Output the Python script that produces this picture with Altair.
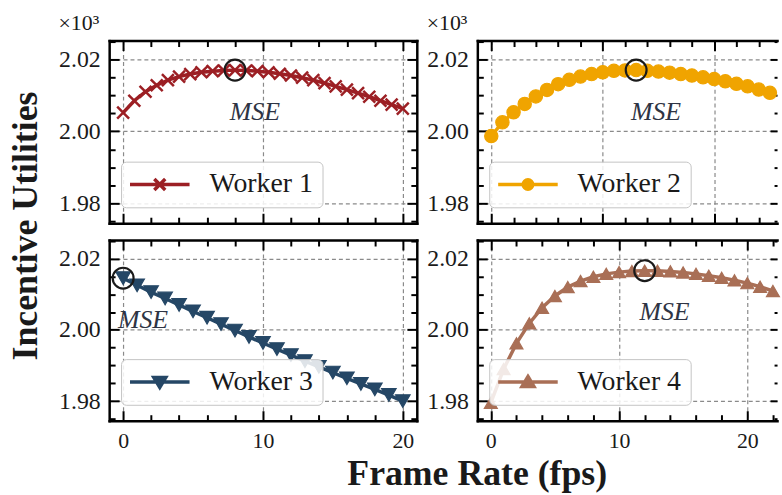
import altair as alt
import pandas as pd

FONT = "Liberation Serif"
TXT = "#1a1a1a"

# ---------------- data ----------------
workers = ["Worker 1", "Worker 2", "Worker 3", "Worker 4"]
colors = ["#9c1f24", "#f0a400", "#254766", "#a96f56"]

w1_x = [0.0, 0.8, 1.6, 2.4, 3.2, 4.0, 4.8, 5.6, 6.4, 7.2, 8.0, 8.8, 9.6,
        10.4, 11.2, 12.0, 12.8, 13.6, 14.4, 15.2, 16.0, 16.8, 17.6, 18.4, 19.2, 20.0]
w1_y = [2.0052, 2.0085, 2.0110, 2.0128, 2.0142, 2.0152, 2.0159, 2.0164, 2.0167,
        2.0169, 2.0170, 2.0169, 2.0167, 2.0164, 2.0160, 2.0155, 2.0149, 2.0142,
        2.0134, 2.0125, 2.0116, 2.0106, 2.0096, 2.0085, 2.0074, 2.0063]

w2_x = [0, 1, 2, 3, 4, 5, 6, 7, 8, 9, 10, 11, 12, 13, 14, 15, 16, 17, 18, 19,
        20, 21, 22, 23, 24, 25]
w2_y = [1.9987, 2.0025, 2.0053, 2.0076, 2.0097, 2.0115, 2.0131, 2.0143, 2.0152,
        2.0159, 2.0164, 2.0168, 2.0169, 2.0170, 2.0168, 2.0166, 2.0163, 2.0159,
        2.0155, 2.0150, 2.0145, 2.0139, 2.0132, 2.0125, 2.0116, 2.0107]

w3_x = [0, 1, 2, 3, 4, 5, 6, 7, 8, 9, 10, 11, 12, 13, 14, 15, 16, 17, 18, 19, 20]
w3_y = [2.0145, 2.0125, 2.0106, 2.0088, 2.0070, 2.0052, 2.0034, 2.0016, 1.9998,
        1.9980, 1.9963, 1.9946, 1.9929, 1.9912, 1.9896, 1.9880, 1.9864, 1.9848,
        1.9833, 1.9817, 1.9800]

w4_x = [0, 1, 2, 3, 4, 5, 6, 7, 8, 9, 10, 11, 12, 13, 14, 15, 16, 17, 18, 19,
        20, 21, 22]
w4_y = [1.9795, 1.9890, 1.9962, 2.0018, 2.0062, 2.0095, 2.0120, 2.0137, 2.0149,
        2.0157, 2.0162, 2.0165, 2.0166, 2.0166, 2.0164, 2.0161, 2.0157, 2.0152,
        2.0146, 2.0139, 2.0131, 2.0121, 2.0109]

mse_x = [8.0, 13, 0, 12]
mse_y = [2.0170, 2.0170, 2.0145, 2.0166]
mse_label = "MSE"

y_major = [1.98, 2.0, 2.02]
y_ticks = [1.975, 1.98, 1.985, 1.99, 1.995, 2.0, 2.005, 2.01, 2.015, 2.02, 2.025]
y_domain = [1.9745, 2.0252]

x_major = [0, 10, 20]
x_ticks_a = [0, 2, 4, 6, 8, 10, 12, 14, 16, 18, 20]
x_ticks_b = [0, 2, 4, 6, 8, 10, 12, 14, 16, 18, 20, 22, 24]
x_ticks_c = [0, 2, 4, 6, 8, 10, 12, 14, 16, 18, 20, 22]

x_domains = [[-1, 21], [-1.25, 25.64], [-1, 21], [-1.05, 22.32]]

# ---------------- helpers ----------------
def is_major(major):
    arr = ",".join(str(v) for v in major)
    return f"indexof([{arr}], datum.value) >= 0"


def cond(major, big, small):
    return {"condition": {"test": is_major(major), "value": big}, "value": small}


def make_axis(orient, values, major, labels, grid, domain, big=-10, small=-6,
              fmt="d", pad=18, lsize=22):
    kw = dict(orient=orient, values=values, title=None, domain=domain,
              domainColor="black", domainWidth=2.5, domainCap="square",
              ticks=True, tickColor="black", tickWidth=2,
              tickSize=cond(major, big, small), labels=labels, grid=grid,
              minExtent=0)
    if labels:
        kw.update(labelExpr=f"{is_major(major)} ? format(datum.value, '{fmt}') : ''",
                  labelFont=FONT, labelFontSize=lsize, labelColor=TXT,
                  labelPadding=pad, labelOverlap=False, labelFlush=False)
    if grid:
        kw.update(gridColor="#8a8a8a", gridDash=[4, 3], gridWidth=1.2,
                  gridOpacity=cond(major, 1, 0))
    return alt.Axis(**kw)


LINE = "M-1.4,0L4.6,0"
legend_paths = [
    LINE + "M1.05,-0.55L2.15,0.55M1.05,0.55L2.15,-0.55",
    LINE + "M2.08,0A0.48,0.48 0 1,1 1.12,0A0.48,0.48 0 1,1 2.08,0Z",
    LINE + "M1.0,-0.45L2.2,-0.45L1.6,0.55Z",
    LINE + "M1.6,-0.55L2.2,0.45L1.0,0.45Z",
]
shapes = ["M-1,-1L1,1M-1,1L1,-1", "circle", "triangle-down", "triangle-up"]
sizes = [144, 180, 215, 170]
filled = [False, True, True, True]


def panel(i, xs, ys, xvals, width, height, top_row, right_cut, legend_y):
    name, col = workers[i], colors[i]
    df = pd.DataFrame({"x": xs, "y": ys, "w": [name] * len(xs)})
    mdf = pd.DataFrame({"x": [mse_x[i]], "y": [mse_y[i]], "t": [mse_label]})
    sx = alt.Scale(domain=x_domains[i], nice=False, zero=False)
    sy = alt.Scale(domain=y_domain, nice=False, zero=False)

    ax_bottom = make_axis("bottom", xvals, x_major, labels=not top_row, grid=True,
                          domain=True, fmt="d", pad=20, lsize=22)
    ax_left = make_axis("left", y_ticks, y_major, labels=True, grid=True,
                        domain=True, fmt=".2f", pad=19, lsize=24)
    ax_top = make_axis("top", xvals, x_major, labels=False, grid=False, domain=True)
    if right_cut:
        ax_right = make_axis("right", y_ticks, y_major, labels=False, grid=False,
                             domain=False, big=-7, small=-3)
    else:
        ax_right = make_axis("right", y_ticks, y_major, labels=False, grid=False,
                             domain=True)

    line = alt.Chart(df).mark_line(color=col, strokeWidth=3.5).encode(
        x=alt.X("x:Q", scale=sx, axis=ax_bottom),
        y=alt.Y("y:Q", scale=sy, axis=ax_left),
    )

    leg_kw = dict(title=None, orient="none", legendX=12, legendY=legend_y,
                  symbolType=legend_paths[i], symbolSize=400, symbolStrokeWidth=3.5,
                  symbolOpacity=1, labelFont=FONT, labelFontSize=28, labelColor=TXT,
                  labelOffset=52, padding=9, cornerRadius=5,
                  strokeColor="#c4c4c4", fillColor="rgba(255,255,255,0.85)")
    if filled[i]:
        leg_kw["symbolStrokeColor"] = col

    if filled[i]:
        pmark = alt.Chart(df).mark_point(shape=shapes[i], size=sizes[i], filled=True,
                                         stroke=col, strokeWidth=1.2, opacity=1)
    else:
        pmark = alt.Chart(df).mark_point(shape=shapes[i], size=sizes[i], filled=False,
                                         strokeWidth=2.5, opacity=1)
    pts = pmark.encode(
        x=alt.X("x:Q", scale=sx, axis=ax_top),
        y=alt.Y("y:Q", scale=sy, axis=ax_right),
        color=alt.Color("w:N", scale=alt.Scale(domain=[name], range=[col]),
                        legend=alt.Legend(**leg_kw)),
    )

    circ = alt.Chart(mdf).mark_point(shape="circle", size=441, filled=False,
                                     color="#1a1a1a", strokeWidth=2.2, opacity=1).encode(
        x=alt.X("x:Q", scale=sx, axis=None),
        y=alt.Y("y:Q", scale=sy, axis=None),
    )
    txt = alt.Chart(mdf).mark_text(font=FONT, fontSize=26, fontStyle="italic",
                                   color="#2e3444", dx=20, dy=42).encode(
        x=alt.X("x:Q", scale=sx, axis=None),
        y=alt.Y("y:Q", scale=sy, axis=None),
        text="t:N",
    )

    props = dict(width=width, height=height)
    if top_row:
        props["title"] = alt.TitleParams(text="×10³", anchor="start", orient="top",
                                         font=FONT, fontSize=22, fontWeight="normal",
                                         color=TXT, offset=8, dy=31,
                                         baseline="alphabetic")
    return (alt.layer(line, pts, circ, txt)
            .resolve_axis(x="independent", y="independent")
            .properties(**props))


p1 = panel(0, w1_x, w1_y, x_ticks_a, 310, 184, True, False, 122)
p2 = panel(1, w2_x, w2_y, x_ticks_b, 302, 184, True, True, 122)
p3 = panel(2, w3_x, w3_y, x_ticks_a, 310, 182, False, False, 120)
p4 = panel(3, w4_x, w4_y, x_ticks_c, 302, 182, False, True, 120)

inner = alt.concat(
    p1, p2, p3, p4, columns=2, spacing={"row": 17, "column": 61}, bounds="flush",
    title=alt.TitleParams(text="Incentive Utilities", orient="left", anchor="middle",
                          font=FONT, fontSize=36, fontWeight="bold", color=TXT,
                          offset=14, dx=8),
).resolve_scale(color="independent")

chart = alt.vconcat(
    inner,
    title=alt.TitleParams(text="Frame Rate (fps)", orient="bottom", anchor="middle",
                          font=FONT, fontSize=36, fontWeight="bold", color=TXT,
                          offset=2, dx=83),
).resolve_scale(color="independent").properties(
    padding={"left": 7, "top": 10, "right": 0, "bottom": 0},
    background="white",
).configure_view(stroke=None)

chart.save("out.html", embed_options={"renderer": "svg", "actions": False})
